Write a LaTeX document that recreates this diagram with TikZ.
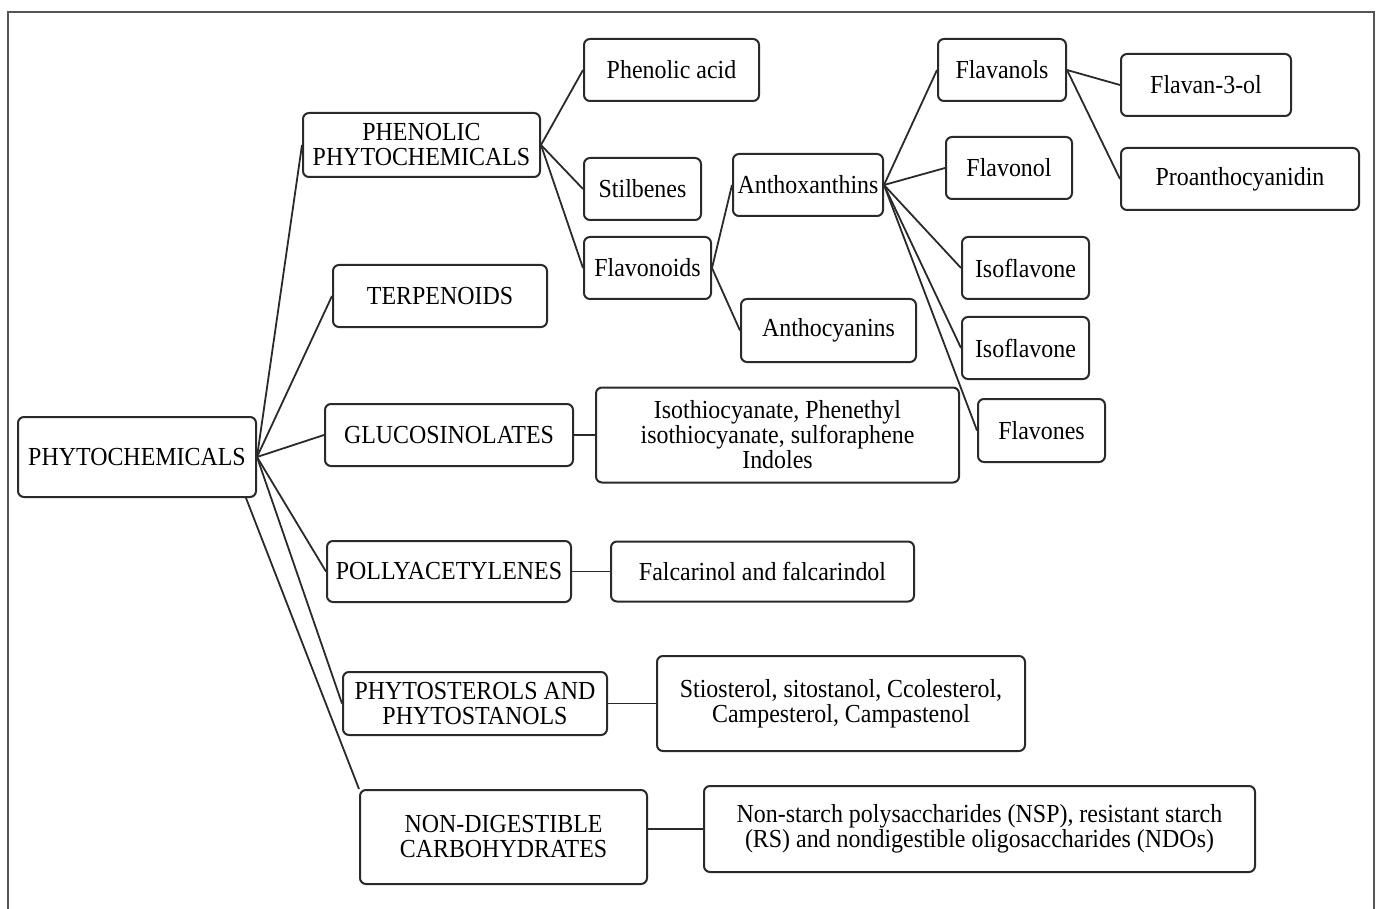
\documentclass[tikz,border=0pt]{standalone}
\usepackage{fontspec}
\setmainfont{Liberation Serif}[FakeStretch=0.92]
\usepackage{tikz}
\usetikzlibrary{positioning}
\usepackage{xcolor}
\definecolor{inkgray}{HTML}{2A2A2A}
\definecolor{framegray}{HTML}{555555}

\begin{document}
\begin{tikzpicture}[
  x=1pt,y=-1pt,
  node distance=20pt,
  box/.style={draw=inkgray,line width=2pt,rounded corners=6pt,align=center,inner sep=2pt,font=\fontsize{26}{25}\selectfont},
  link/.style={line width=1.8pt,inkgray}
]
\useasboundingbox (0,0) rectangle (1376,909);
\draw[framegray,line width=1.4pt] (8,909) -- (8,12) -- (1374,12) -- (1374,909);

% root and main groups
\node[box,minimum width=238pt,minimum height=80pt] (phyto) at (137,457) {PHYTOCHEMICALS};
\node[box,minimum width=237pt,minimum height=64pt] (phenolic) at (421.5,145) {PHENOLIC\\PHYTOCHEMICALS};
\node[box,minimum width=214pt,minimum height=62pt] (terp) at (440,296) {TERPENOIDS};
\node[box,minimum width=248pt,minimum height=62pt] (gluc) at (449,435) {GLUCOSINOLATES};
\node[box,minimum width=244pt,minimum height=61pt] (polly) at (449,571.5) {POLLYACETYLENES};
\node[box,minimum width=264pt,minimum height=63pt] (sterols) at (475,703.5) {PHYTOSTEROLS AND\\PHYTOSTANOLS};
\node[box,minimum width=287pt,minimum height=94pt] (nondig) at (503.5,837) {NON-DIGESTIBLE\\CARBOHYDRATES};
\draw[link] (phyto.east) -- (phenolic.west);
\draw[link] (phyto.east) -- (terp.west);
\draw[link] (phyto.east) -- (gluc.west);
\draw[link] (phyto.east) -- (polly.west);
\draw[link] (phyto.east) -- (sterols.west);
\draw[link] ([xshift=-11pt]phyto.south east) -- (nondig.north west);

% phenolic branch
\node[box,anchor=west,minimum width=175pt,minimum height=62pt] (phacid) at (583,70) {Phenolic acid};
\node[box,anchor=west,minimum width=117pt,minimum height=62pt] (stilb) at (583,189) {Stilbenes};
\node[box,anchor=west,minimum width=127pt,minimum height=62pt] (flavonoids) at (583,268) {Flavonoids};
\node[box,anchor=west,minimum width=150pt,minimum height=62pt] (anthox) at (732,185) {Anthoxanthins};
\node[box,anchor=west,minimum width=175pt,minimum height=63pt] (anthocy) at (740,330.5) {Anthocyanins};
\draw[link] (phenolic.east) -- (phacid.west);
\draw[link] (phenolic.east) -- (stilb.west);
\draw[link] (phenolic.east) -- (flavonoids.west);
\draw[link] (flavonoids.east) -- (anthox.west);
\draw[link] (flavonoids.east) -- (anthocy.west);

\node[box,anchor=west,minimum width=128pt,minimum height=62pt] (flavanols) at (937,70) {Flavanols};
\node[box,anchor=west,minimum width=126pt,minimum height=62pt] (flavonol) at (945,168) {Flavonol};
\node[box,anchor=west,minimum width=127pt,minimum height=62pt] (isoA) at (961,268) {Isoflavone};
\node[box,anchor=west,minimum width=127pt,minimum height=62pt] (isoB) at (961,348) {Isoflavone};
\node[box,anchor=west,minimum width=127pt,minimum height=63pt] (flavones) at (977,430.5) {Flavones};
\draw[link] (anthox.east) -- (flavanols.west);
\draw[link] (anthox.east) -- (flavonol.west);
\draw[link] (anthox.east) -- (isoA.west);
\draw[link] (anthox.east) -- (isoB.west);
\draw[link] (anthox.east) -- (flavones.west);

\node[box,anchor=west,minimum width=170pt,minimum height=62pt] (flavthree) at (1120,85) {Flavan-3-ol};
\node[box,anchor=west,minimum width=238pt,minimum height=62pt] (proanth) at (1120,179) {Proanthocyanidin};
\draw[link] (flavanols.east) -- (flavthree.west);
\draw[link] (flavanols.east) -- (proanth.west);

% compound boxes
\node[box,minimum width=363pt,minimum height=95pt,right=21pt of gluc] (isothio) {Isothiocyanate, Phenethyl\\isothiocyanate, sulforaphene\\Indoles};
\node[box,minimum width=303pt,minimum height=60pt,right=38pt of polly] (falcar) {Falcarinol and falcarindol};
\node[box,minimum width=368pt,minimum height=95pt,right=48pt of sterols] (stios) {Stiosterol, sitostanol, Ccolesterol,\\Campesterol, Campastenol};
\node[box,anchor=west,minimum width=551pt,minimum height=86pt] (nsp) at (703,829) {Non-starch polysaccharides (NSP), resistant starch\\(RS) and nondigestible oligosaccharides (NDOs)};
\draw[link] (gluc) -- (isothio);
\draw[link] (polly) -- (falcar);
\draw[link] (sterols) -- (stios);
\draw[link] (nondig.east |- nsp.west) -- (nsp.west);
\end{tikzpicture}
\end{document}
